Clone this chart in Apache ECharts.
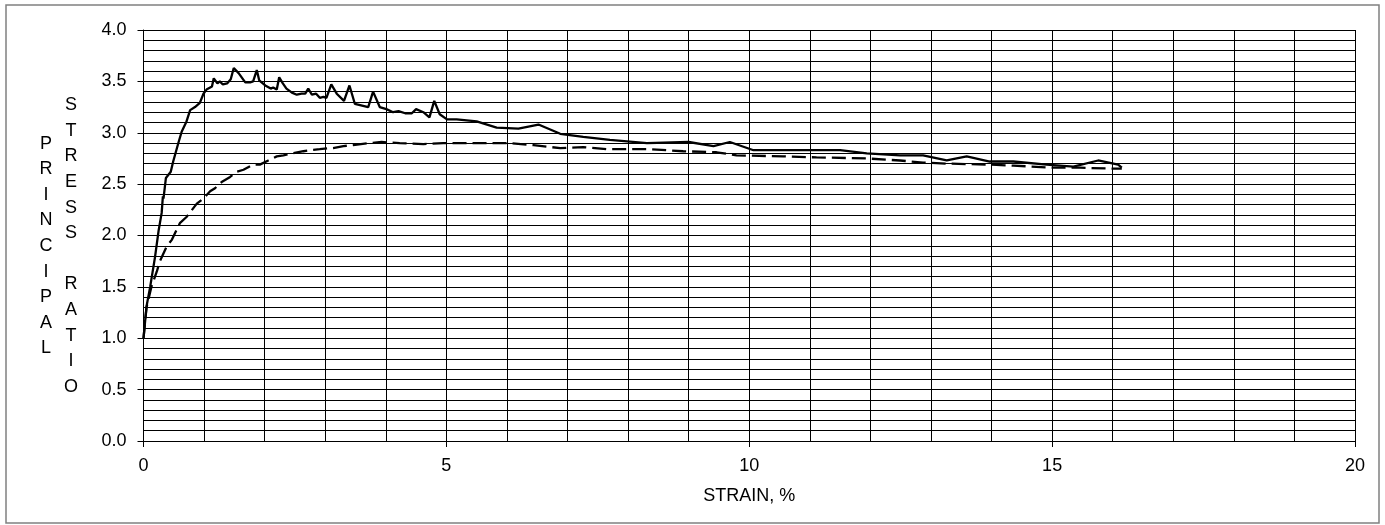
<!DOCTYPE html>
<html>
<head>
<meta charset="utf-8">
<script src="https://cdn.jsdelivr.net/npm/echarts@6/dist/echarts.min.js"></script>
<style>
  html, body { margin: 0; padding: 0; background: #fff; }
  #chart_block { width: 1385px; height: 525px; }
</style>
</head>
<body>
<div id="chart_block"></div>
<script>
// strain (%) vs principal stress ratio
var solidStrain = [0, 0.05, 0.11, 0.19, 0.25, 0.30, 0.32, 0.33, 0.37, 0.45, 0.49, 0.58, 0.63, 0.71, 0.77, 0.85, 0.93, 0.99,
  1.04, 1.13, 1.16, 1.22, 1.26, 1.31, 1.38, 1.44, 1.49, 1.57, 1.68, 1.76, 1.81, 1.84, 1.87, 1.91,
  2.01, 2.10, 2.14, 2.20, 2.24, 2.30, 2.36, 2.45, 2.53, 2.61, 2.67, 2.72, 2.78, 2.85, 2.91, 2.97,
  3.02, 3.10, 3.19, 3.31, 3.40, 3.49, 3.71, 3.79, 3.90, 4.01, 4.12, 4.21, 4.32, 4.43, 4.50, 4.62,
  4.72, 4.80, 4.89, 5.01, 5.17, 5.50, 5.83, 6.19, 6.52, 6.88, 7.26, 7.70, 8.31, 9.00, 9.41, 9.68,
  10.07, 10.56, 11.11, 11.50, 11.94, 12.49, 12.87, 13.26, 13.59, 13.97, 14.36, 14.91, 15.35, 15.76,
  16.09, 16.15];
var solidRatio = [1.00, 1.31, 1.50, 1.79, 2.05, 2.22, 2.38, 2.36, 2.56, 2.62, 2.72, 2.91, 3.01, 3.11, 3.22, 3.25, 3.29, 3.38,
  3.42, 3.45, 3.53, 3.48, 3.50, 3.47, 3.48, 3.52, 3.63, 3.58, 3.49, 3.49, 3.50, 3.49, 3.61, 3.51,
  3.46, 3.43, 3.44, 3.42, 3.54, 3.48, 3.43, 3.39, 3.37, 3.38, 3.38, 3.43, 3.37, 3.38, 3.34, 3.35,
  3.34, 3.47, 3.38, 3.31, 3.46, 3.28, 3.25, 3.40, 3.25, 3.23, 3.20, 3.21, 3.19, 3.19, 3.23, 3.20,
  3.15, 3.31, 3.18, 3.13, 3.13, 3.11, 3.05, 3.04, 3.08, 2.99, 2.96, 2.93, 2.90, 2.91, 2.87, 2.91,
  2.83, 2.83, 2.83, 2.83, 2.80, 2.78, 2.78, 2.73, 2.77, 2.72, 2.72, 2.69, 2.67, 2.73,
  2.69, 2.66];

var dashedStrain = [0, 0.05, 0.13, 0.22, 0.27, 0.38, 0.47, 0.60, 0.71, 0.88, 0.99, 1.10, 1.18, 1.29, 1.43, 1.54, 1.65,
  1.81, 1.92, 2.06, 2.20, 2.31, 2.47, 2.64, 2.75, 2.91, 3.05, 3.13, 3.30, 3.46, 3.74, 3.93, 4.23,
  4.62, 4.95, 5.39, 6.00, 6.44, 6.88, 7.26, 7.65, 8.36, 8.91, 9.46, 9.79, 10.56, 11.11, 11.94,
  12.49, 12.87, 13.26, 13.97, 14.36, 15.02, 15.46, 16.01, 16.15];
var dashedRatio = [1.00, 1.30, 1.50, 1.65, 1.75, 1.89, 1.96, 2.12, 2.18, 2.31, 2.36, 2.43, 2.46, 2.52, 2.57, 2.62, 2.64,
  2.69, 2.69, 2.73, 2.77, 2.78, 2.80, 2.82, 2.83, 2.84, 2.85, 2.85, 2.87, 2.88, 2.90, 2.91, 2.90,
  2.89, 2.90, 2.90, 2.90, 2.88, 2.85, 2.86, 2.84, 2.84, 2.82, 2.81, 2.78, 2.77, 2.76, 2.75,
  2.73, 2.71, 2.70, 2.69, 2.68, 2.66, 2.66, 2.65, 2.65];

var yTitleLeft = ['P', 'R', 'I', 'N', 'C', 'I', 'P', 'A', 'L'];
var yTitleRight = ['S', 'T', 'R', 'E', 'S', 'S', ' ', 'R', 'A', 'T', 'I', 'O'];
var xTitle = 'STRAIN, %';

function pairs(xs, ys) {
  var out = [];
  for (var i = 0; i < xs.length; i++) out.push([xs[i], ys[i]]);
  return out;
}

var fontFamily = '"Liberation Sans", Arial, sans-serif';
var fontSize = 18;
var chartDom = document.getElementById('chart_block');
var myChart = echarts.init(chartDom);

var option = {
  animation: false,
  backgroundColor: '#fff',
  textStyle: { fontFamily: fontFamily, color: '#000' },
  grid: { left: 143.5, right: 30, top: 30, bottom: 84, containLabel: false },
  graphic: [
    {
      type: 'rect',
      shape: { x: 6, y: 5, width: 1373, height: 518 },
      style: { fill: 'none', stroke: '#808080', lineWidth: 1.5 },
      silent: true
    },
    {
      type: 'text',
      x: 46, y: 246,
      style: {
        text: yTitleLeft.join('\n'),
        font: fontSize + 'px ' + fontFamily,
        lineHeight: 25.6,
        fill: '#000',
        align: 'center',
        verticalAlign: 'middle'
      }
    },
    {
      type: 'text',
      x: 71, y: 246,
      style: {
        text: yTitleRight.join('\n'),
        font: fontSize + 'px ' + fontFamily,
        lineHeight: 25.6,
        fill: '#000',
        align: 'center',
        verticalAlign: 'middle'
      }
    }
  ],
  xAxis: {
    type: 'value',
    min: 0,
    max: 20,
    interval: 5,
    name: xTitle,
    nameLocation: 'middle',
    nameGap: 46,
    nameTextStyle: { fontSize: fontSize, color: '#000' },
    axisLine: { show: true, onZero: false, lineStyle: { color: '#000', width: 1 } },
    axisTick: { show: true, length: 6, lineStyle: { color: '#000' } },
    axisLabel: { fontSize: fontSize, color: '#000', margin: 16 },
    splitLine: { show: true, lineStyle: { color: '#000', width: 1 } },
    minorTick: { show: false, splitNumber: 5 },
    minorSplitLine: { show: true, lineStyle: { color: '#000', width: 1 } }
  },
  yAxis: {
    type: 'value',
    min: 0,
    max: 4,
    interval: 0.5,
    axisLine: { show: true, lineStyle: { color: '#000', width: 1 } },
    axisTick: { show: true, length: 6, lineStyle: { color: '#000' } },
    axisLabel: {
      fontSize: fontSize, color: '#000', margin: 17,
      formatter: function (v) { return v.toFixed(1); }
    },
    splitLine: { show: true, lineStyle: { color: '#000', width: 1 } },
    minorTick: { show: false, splitNumber: 5 },
    minorSplitLine: { show: true, lineStyle: { color: '#000', width: 1 } }
  },
  series: [
    {
      name: 'solid',
      type: 'line',
      data: pairs(solidStrain, solidRatio),
      showSymbol: false,
      symbol: 'none',
      lineStyle: { color: '#000', width: 2.3 }
    },
    {
      name: 'dashed',
      type: 'line',
      data: pairs(dashedStrain, dashedRatio),
      showSymbol: false,
      symbol: 'none',
      lineStyle: { color: '#000', width: 2.3, type: [14, 6] }
    }
  ]
};

myChart.setOption(option);
</script>
</body>
</html>
